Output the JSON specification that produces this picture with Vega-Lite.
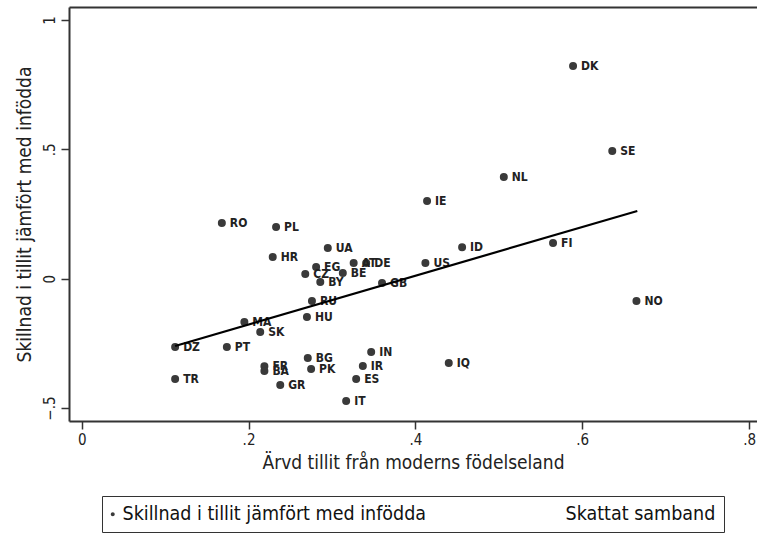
{
  "$schema": "https://vega.github.io/schema/vega-lite/v6.json",
  "autosize": "none",
  "width": 688,
  "height": 414,
  "padding": {"left": 69, "top": 7, "right": 0, "bottom": 118},
  "background": "white",
  "config": {
    "view": {"stroke": null},
    "font": "DejaVu Sans Condensed, sans-serif",
    "axis": {
      "labelFont": "DejaVu Sans Condensed, sans-serif",
      "titleFont": "DejaVu Sans Condensed, sans-serif",
      "labelFontSize": 15,
      "titleFontSize": 19,
      "titleFontWeight": "normal",
      "labelColor": "#222",
      "titleColor": "#222",
      "domainColor": "#333",
      "domainWidth": 2,
      "tickColor": "#333",
      "tickWidth": 1.5,
      "tickSize": 8,
      "grid": false
    }
  },
  "datasets": {
    "lander": [
      {"land": "DK", "x": 0.589, "y": 0.822},
      {"land": "SE", "x": 0.636, "y": 0.494},
      {"land": "NL", "x": 0.506, "y": 0.393},
      {"land": "IE", "x": 0.414, "y": 0.300},
      {"land": "RO", "x": 0.168, "y": 0.215},
      {"land": "PL", "x": 0.233, "y": 0.200},
      {"land": "UA", "x": 0.295, "y": 0.119},
      {"land": "ID", "x": 0.456, "y": 0.122},
      {"land": "FI", "x": 0.565, "y": 0.138},
      {"land": "HR", "x": 0.229, "y": 0.084},
      {"land": "US", "x": 0.412, "y": 0.061},
      {"land": "AT", "x": 0.326, "y": 0.061},
      {"land": "DE", "x": 0.341, "y": 0.061},
      {"land": "EG", "x": 0.281, "y": 0.045},
      {"land": "CZ", "x": 0.268, "y": 0.018},
      {"land": "BE", "x": 0.313, "y": 0.022},
      {"land": "BY", "x": 0.286, "y": -0.013},
      {"land": "GB", "x": 0.360, "y": -0.017},
      {"land": "RU", "x": 0.276, "y": -0.086},
      {"land": "HU", "x": 0.270, "y": -0.148},
      {"land": "MA", "x": 0.195, "y": -0.167},
      {"land": "SK", "x": 0.214, "y": -0.206},
      {"land": "DZ", "x": 0.112, "y": -0.264},
      {"land": "PT", "x": 0.174, "y": -0.264},
      {"land": "TR", "x": 0.112, "y": -0.388},
      {"land": "FR", "x": 0.219, "y": -0.338},
      {"land": "BA", "x": 0.219, "y": -0.357},
      {"land": "BG", "x": 0.271, "y": -0.306},
      {"land": "PK", "x": 0.275, "y": -0.349},
      {"land": "GR", "x": 0.238, "y": -0.411},
      {"land": "IN", "x": 0.347, "y": -0.283},
      {"land": "IR", "x": 0.337, "y": -0.337},
      {"land": "ES", "x": 0.329, "y": -0.388},
      {"land": "IT", "x": 0.317, "y": -0.473},
      {"land": "IQ", "x": 0.440, "y": -0.326},
      {"land": "NO", "x": 0.665, "y": -0.086}
    ],
    "samband": [
      {"x": 0.112, "y": -0.260},
      {"x": 0.666, "y": 0.262}
    ]
  },
  "resolve": {"axis": {"x": "independent"}},
  "layer": [
    {
      "data": {"name": "lander"},
      "mark": {"type": "point", "filled": false, "size": 36, "opacity": 1, "color": "#3a3a3a", "fill": "#3a3a3a", "fillOpacity": 1, "stroke": "#3a3a3a", "strokeWidth": 2},
      "encoding": {
        "x": {
          "field": "x", "type": "quantitative",
          "scale": {"domain": [-0.01522, 0.8095], "nice": false, "zero": false},
          "axis": {
            "orient": "bottom",
            "title": "Ärvd tillit från moderns födelseland",
            "values": [0, 0.2, 0.4, 0.6, 0.8],
            "labelExpr": "datum.value == 0 ? '0' : replace(format(datum.value, '.1f'), '0.', '.')",
            "labelPadding": 3,
            "titlePadding": 6
          }
        },
        "y": {
          "field": "y", "type": "quantitative",
          "scale": {"domain": [-0.5499, 1.0502], "nice": false, "zero": false},
          "axis": {
            "title": "Skillnad i tillit jämfört med infödda",
            "values": [-0.5, 0, 0.5, 1],
            "labelExpr": "datum.value == 0 ? '0' : datum.value == 1 ? '1' : replace(format(datum.value, '.1f'), '0.', '.')",
            "labelAngle": -90,
            "labelAlign": "center",
            "labelBaseline": "bottom",
            "labelPadding": 4,
            "titlePadding": 8
          }
        },
        "shape": {
          "datum": "Skillnad i tillit jämfört med infödda",
          "type": "nominal",
          "scale": {
            "domain": ["Skillnad i tillit jämfört med infödda", "Skattat samband"],
            "range": ["M-1,0A1,1,0,1,1,1,0A1,1,0,1,1,-1,0Z", "M-35.5,0H3.5"]
          },
          "legend": {
            "orient": "none",
            "legendX": 33,
            "legendY": 489,
            "direction": "horizontal",
            "columns": 2,
            "title": null,
            "strokeColor": "#333",
            "padding": 8,
            "labelFont": "DejaVu Sans Condensed, sans-serif",
            "labelFontSize": 19.5,
            "labelColor": "#111",
            "labelOffset": 0,
            "labelLimit": 0,
            "columnPadding": 53,
            "symbolSize": 16,
            "symbolOffset": -7,
            "symbolStrokeWidth": 2,
            "symbolStrokeColor": "#111111",
            "symbolFillColor": "#333333",
            "symbolOpacity": 1
          }
        }
      }
    },
    {
      "data": {"name": "lander"},
      "mark": {
        "type": "text", "align": "left", "baseline": "middle", "dx": 8,
        "fontSize": 12, "fontWeight": "bold", "color": "#222",
        "font": "DejaVu Sans Condensed, sans-serif"
      },
      "encoding": {
        "x": {"field": "x", "type": "quantitative", "axis": null},
        "y": {"field": "y", "type": "quantitative"},
        "text": {"field": "land"}
      }
    },
    {
      "data": {"name": "samband"},
      "mark": {"type": "line", "strokeWidth": 2.2, "color": "#000000"},
      "encoding": {
        "x": {
          "field": "x", "type": "quantitative",
          "axis": {"orient": "top", "title": null, "labels": false, "ticks": false, "domain": true, "domainWidth": 2}
        },
        "y": {"field": "y", "type": "quantitative"}
      }
    }
  ]
}
